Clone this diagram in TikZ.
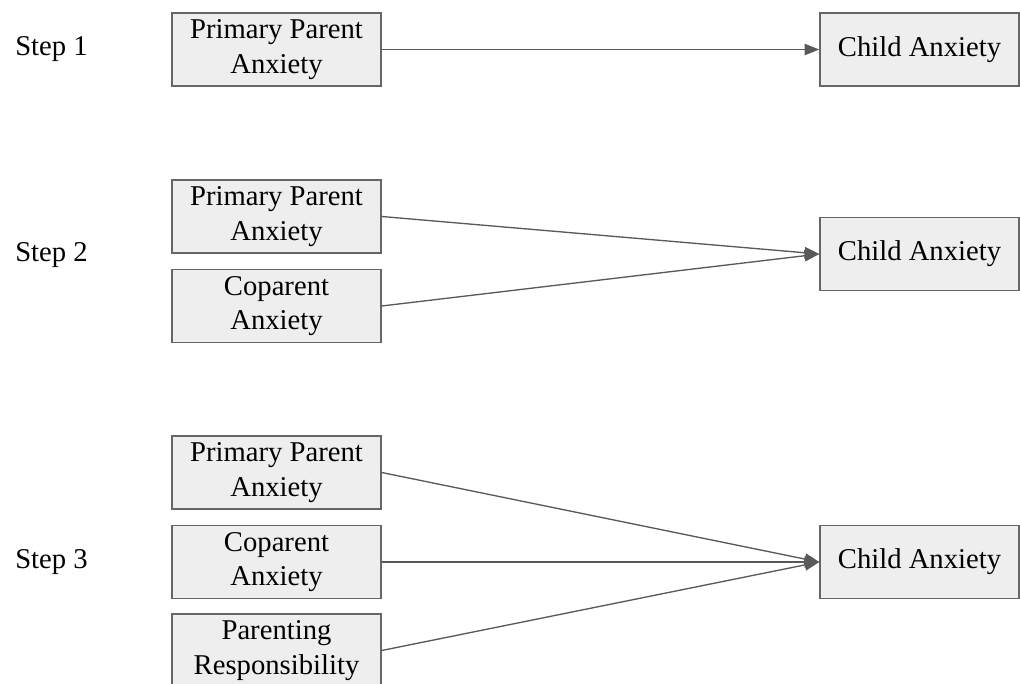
\documentclass[tikz,border=0pt]{standalone}
\usepackage{fontspec}
\setmainfont{Liberation Serif}
\usetikzlibrary{arrows.meta}
\definecolor{boxfill}{HTML}{EEEEEE}
\definecolor{boxdraw}{HTML}{666666}
\definecolor{arrowc}{HTML}{595959}
\tikzset{
  lbox/.style={draw=boxdraw, fill=boxfill, line width=1.1pt, inner sep=0pt,
    minimum width=156.75pt, minimum height=54.75pt, align=center,
    font=\fontsize{21.5}{26}\selectfont},
  cbox/.style={lbox, minimum width=149.25pt},
  steplbl/.style={anchor=west, inner sep=0pt, font=\fontsize{21.5}{26}\selectfont},
  conn/.style={draw=arrowc, line width=1pt, -{Triangle[length=11pt,width=8.5pt]}}
}
\begin{document}
\begin{tikzpicture}[x=0.75pt, y=-0.75pt]
\useasboundingbox (0,0) rectangle (1020,684);
% Step 1
\node[steplbl] (s1) at (15,49.5) {Step 1};
\node[lbox] (p1) at (276.5,49.5) {Primary Parent\\Anxiety};
\node[cbox] (c1) at (919.5,49.5) {Child Anxiety};
\draw[conn] (p1.east) -- (c1.west);
% Step 2
\node[steplbl] (s2) at (15,255) {Step 2};
\node[lbox] (p2) at (276.5,216.5) {Primary Parent\\Anxiety};
\node[lbox] (q2) at (276.5,306) {Coparent\\Anxiety};
\node[cbox] (c2) at (919.5,254) {Child Anxiety};
\draw[conn] (p2.east) -- (c2.west);
\draw[conn] (q2.east) -- (c2.west);
% Step 3
\node[steplbl] (s3) at (15,562) {Step 3};
\node[lbox] (p3) at (276.5,472.5) {Primary Parent\\Anxiety};
\node[lbox] (q3) at (276.5,562) {Coparent\\Anxiety};
\node[lbox] (r3) at (276.5,650.5) {Parenting\\Responsibility};
\node[cbox] (c3) at (919.5,562) {Child Anxiety};
\draw[conn] (p3.east) -- (c3.west);
\draw[conn] (q3.east) -- (c3.west);
\draw[conn] (r3.east) -- (c3.west);
\end{tikzpicture}
\end{document}
